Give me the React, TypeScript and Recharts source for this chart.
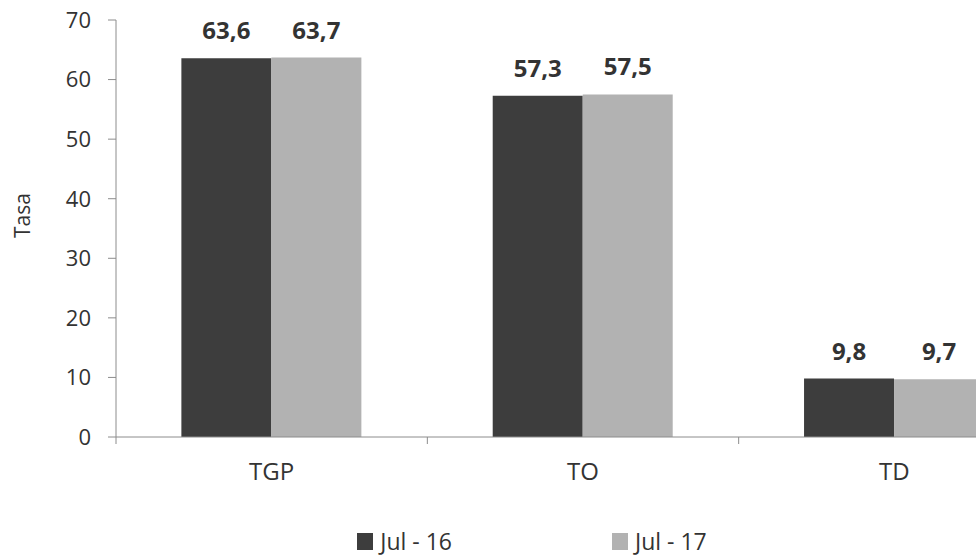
import { Bar, BarChart, LabelList, Legend, XAxis, YAxis } from "recharts"

const categories = ["TGP", "TO", "TD"]
const jul16 = [63.6, 57.3, 9.8]
const jul17 = [63.7, 57.5, 9.7]
const yTicks = [0, 10, 20, 30, 40, 50, 60, 70]

const seriesNames = ["Jul - 16", "Jul - 17"]
const DARK = "#3d3d3d"
const LIGHT = "#b2b2b2"
const AXIS = "#8c8c8c"
const TEXT = "#333333"
const FONT = "'Open Sans', sans-serif"

const data = categories.map((c, i) => ({ name: c, jul16: jul16[i], jul17: jul17[i] }))

const fmt = (v: unknown) => Number(v).toFixed(1).replace(".", ",")

function CategoryTick(props: any) {
  const { x, y, payload, index } = props
  const half = payload?.offset ?? 0
  return (
    <g>
      {index === 0 && <line x1={x - half} x2={x - half} y1={y} y2={y + 7} stroke={AXIS} />}
      <line x1={x + half} x2={x + half} y1={y} y2={y + 7} stroke={AXIS} />
      <text x={x} y={y + 43} textAnchor="middle" fill={TEXT} fontSize={24} fontFamily={FONT}>
        {payload.value}
      </text>
    </g>
  )
}

function YLabel(props: any) {
  const vb = props.viewBox || { x: 0, y: 0, width: 0, height: 0 }
  const cx = vb.x + 22
  const cy = vb.y + vb.height / 2 - 13
  return (
    <text
      x={cx}
      y={cy}
      transform={`rotate(-90 ${cx} ${cy})`}
      textAnchor="middle"
      dominantBaseline="central"
      fill={TEXT}
      fontSize={21}
      fontFamily={FONT}
    >
      Tasa
    </text>
  )
}

function LegendContent() {
  const colors = [DARK, LIGHT]
  return (
    <div
      style={{
        height: 30,
        display: "flex",
        justifyContent: "center",
        alignItems: "center",
        gap: 160,
        paddingLeft: 14,
        fontFamily: FONT,
        fontSize: 23,
        color: TEXT,
      }}
    >
      {seriesNames.map((n, i) => (
        <div key={n} style={{ display: "flex", alignItems: "center" }}>
          <span style={{ width: 16, height: 17, background: colors[i], marginRight: 7, display: "inline-block" }} />
          <span>{n}</span>
        </div>
      ))}
    </div>
  )
}

export default function App() {
  return (
    <div
      style={{
        position: "absolute",
        left: 0,
        top: 0,
        width: 976,
        height: 559,
        overflow: "hidden",
        background: "#fff",
      }}
    >
      <BarChart
        width={1060}
        height={559}
        data={data}
        margin={{ top: 20, right: 10, left: 0, bottom: 3 }}
        barCategoryGap="21%"
        barGap={0}
      >
        <XAxis
          dataKey="name"
          height={89}
          stroke={AXIS}
          tickLine={false}
          tickSize={0}
          tickMargin={0}
          tick={<CategoryTick />}
        />
        <YAxis
          width={116}
          domain={[0, 70]}
          ticks={yTicks}
          interval={0}
          stroke={AXIS}
          tickSize={8}
          tickMargin={17}
          tick={{ fill: TEXT, fontSize: 22, fontFamily: FONT }}
          label={<YLabel />}
        />
        <Legend verticalAlign="bottom" content={<LegendContent />} />
        <Bar dataKey="jul16" name={seriesNames[0]} fill={DARK} isAnimationActive={false}>
          <LabelList
            dataKey="jul16"
            position="top"
            offset={19}
            formatter={fmt}
            fill={TEXT}
            fontSize={24}
            fontWeight="bold"
            fontFamily={FONT}
          />
        </Bar>
        <Bar dataKey="jul17" name={seriesNames[1]} fill={LIGHT} isAnimationActive={false}>
          <LabelList
            dataKey="jul17"
            position="top"
            offset={19}
            formatter={fmt}
            fill={TEXT}
            fontSize={24}
            fontWeight="bold"
            fontFamily={FONT}
          />
        </Bar>
      </BarChart>
    </div>
  )
}
